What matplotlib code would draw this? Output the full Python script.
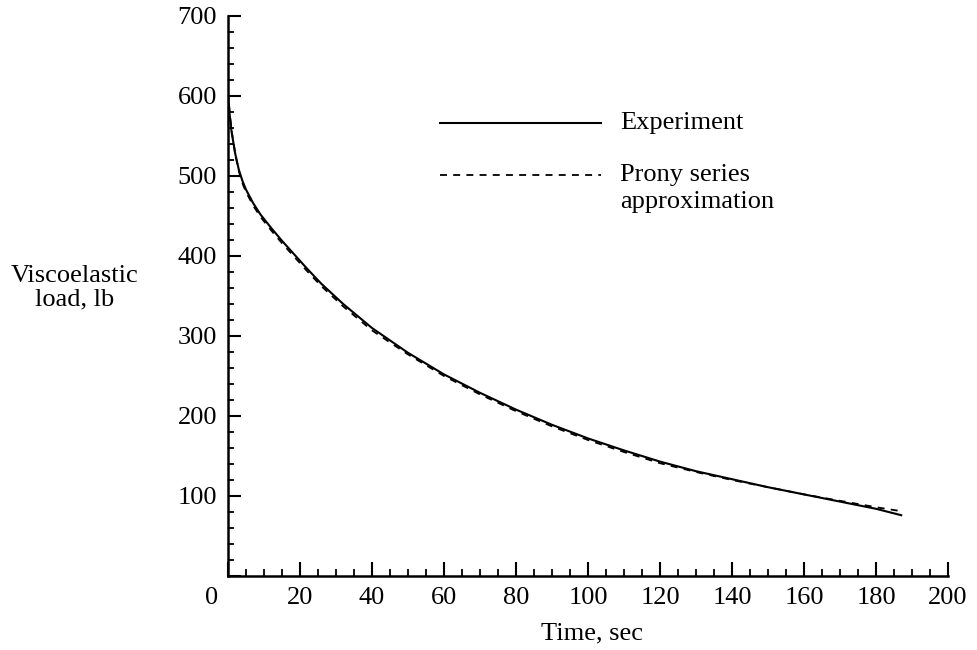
import numpy as np
import matplotlib
matplotlib.use("Agg")
import matplotlib.pyplot as plt
from matplotlib.ticker import MultipleLocator, FuncFormatter

plt.rcParams['font.family'] = ['Liberation Serif', 'DejaVu Serif']
plt.rcParams['lines.scale_dashes'] = False

# relaxation test: load vs time
time_exp = [0, 0.5, 1, 2, 3, 4, 5, 7, 9, 12, 15, 18, 22, 26, 32, 40, 50, 60,
            70, 80, 90, 100, 110, 120, 130, 140, 150, 160, 170, 180, 187]
load_exp = [600, 575, 555, 528, 508, 494, 483, 466, 452, 435, 419, 404, 384,
            365, 340, 310, 279, 252, 229, 208, 189, 172, 157, 143, 131, 121,
            111, 102, 93, 84, 76]

time_prony = [0, 0.5, 1, 2, 3, 4, 5, 7, 9, 12, 15, 18, 22, 26, 32, 40, 50, 60,
              70, 80, 90, 100, 110, 120, 130, 140, 150, 160, 170, 180, 187]
load_prony = [605, 578, 557, 528, 506, 491, 480, 463, 449, 432, 416, 401, 381,
              362, 337, 307, 277, 250, 227, 206, 187, 170, 155, 141, 130, 120,
              111, 102, 94, 86, 81]

fs = 19

fig = plt.figure(figsize=(9.77, 6.5), dpi=100)
ax = fig.add_axes([228/977, 74/650, 720/977, 560/650])

ax.plot(time_exp, load_exp, color='black', lw=1.5)
ax.plot(time_prony, load_prony, color='black', lw=1.3, dashes=(5, 4.5))

ax.set_xlim(0, 200)
ax.set_ylim(0, 700)

for s in ['top', 'right']:
    ax.spines[s].set_visible(False)
for s in ['left', 'bottom']:
    ax.spines[s].set_linewidth(1.8)

ax.xaxis.set_major_locator(MultipleLocator(20))
ax.xaxis.set_minor_locator(MultipleLocator(5))
ax.yaxis.set_major_locator(MultipleLocator(100))
ax.yaxis.set_minor_locator(MultipleLocator(20))
ax.xaxis.set_major_formatter(FuncFormatter(lambda v, p: '' if v == 0 else '%d' % v))
ax.yaxis.set_major_formatter(FuncFormatter(lambda v, p: '' if v == 0 else '%d' % v))

ax.tick_params(axis='x', which='major', direction='in', length=10, width=1.5,
               labelsize=fs, pad=8)
ax.tick_params(axis='x', which='minor', direction='in', length=5, width=1.3)
ax.tick_params(axis='y', which='major', direction='in', length=9, width=1.5,
               labelsize=fs, pad=8)
ax.tick_params(axis='y', which='minor', direction='in', length=4, width=1.3)

# the zero label sits a bit left of the origin
ax.annotate('0', xy=(0, 0), xytext=(-12, -8), textcoords='offset points',
            ha='center', va='top', fontsize=fs)

fig.text(592/977, 1 - 633/650, 'Time, sec', ha='center', va='center', fontsize=fs)
fig.text(75/977, 1 - 288/650, 'Viscoelastic\nload, lb', ha='center', va='center',
         fontsize=fs, linespacing=1.1)

# key
ax.plot([0.294, 0.518], [0.809, 0.809], transform=ax.transAxes, color='black', lw=1.5)
ax.plot([0.294, 0.518], [0.716, 0.716], transform=ax.transAxes, color='black',
        lw=1.3, dashes=(5, 4.5))
ax.text(0.545, 0.809, 'Experiment', transform=ax.transAxes, ha='left', va='center',
        fontsize=fs)
ax.text(0.545, 0.716, 'Prony series', transform=ax.transAxes, ha='left', va='center',
        fontsize=fs)
ax.text(0.545, 0.668, 'approximation', transform=ax.transAxes, ha='left', va='center',
        fontsize=fs)

fig.savefig('out.png', dpi=100)
